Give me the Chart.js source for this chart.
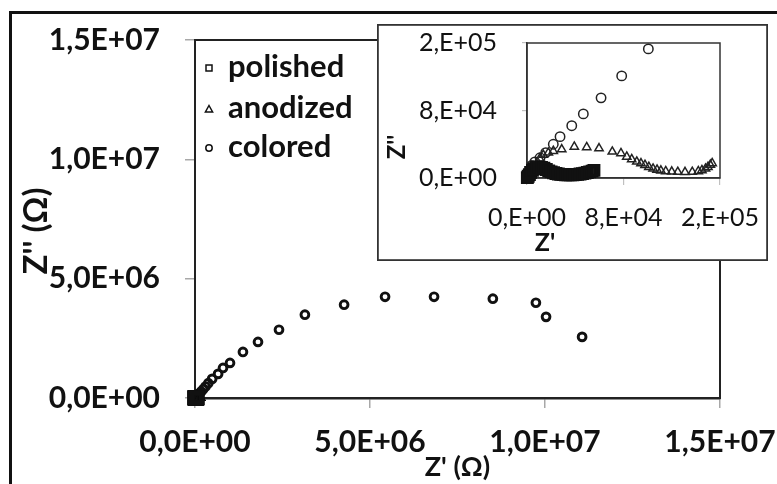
<!DOCTYPE html>
<html><head><meta charset="utf-8">
<script src="https://cdn.jsdelivr.net/npm/chart.js@4.4.1/dist/chart.umd.min.js"></script>
<style>
html,body{margin:0;padding:0;background:#fff;overflow:hidden}
#wrap{position:relative;width:777px;height:484px;overflow:hidden}
#frame{position:absolute;left:9px;top:11px;width:820px;height:520px;border-left:3px solid #111;border-top:3px solid #111}
#main{position:absolute;left:0;top:-30px}
#insetBox{position:absolute;left:377px;top:24px;width:391px;height:237px;background:#fff;overflow:hidden}
#inset{position:absolute;left:0;top:-40px}
</style></head>
<body><div id="wrap"><div id="frame"></div><canvas id="main" width="830" height="514"></canvas><div id="insetBox"><canvas id="inset" width="450" height="277"></canvas></div></div>
<script>
// ---- data (Ω) ----
const seriesNames = ['polished', 'anodized', 'colored'];

const polishedZre = [300, 1000, 2000, 3000, 4500, 6000, 8000, 10000, 12000, 14000, 16000, 18000, 20000, 22000, 24000, 26000, 28000, 30000, 32000, 34000, 36000, 38000, 40000, 42000, 44000, 46000, 48000, 50000, 52000, 54000, 55500];
const polishedZim = [500, 2000, 4000, 6500, 9000, 11000, 12500, 13000, 12500, 11500, 10000, 8500, 7200, 6200, 5400, 4800, 4300, 4000, 3800, 3700, 3700, 3800, 4000, 4300, 4700, 5200, 5800, 6500, 7300, 8200, 9000];

const anodizedZre = [1000, 3000, 5000, 8000, 10500, 13500, 17700, 21800, 28800, 39200, 49500, 59700, 70700, 77900, 82700, 86800, 91000, 94500, 97800, 101000, 104500, 107800, 111000, 115000, 120000, 125000, 131000, 137000, 142000, 145000, 148000, 150000, 152000, 153500];
const anodizedZim = [2000, 6000, 11000, 17000, 23000, 27300, 30000, 32000, 34000, 37000, 36400, 35200, 31200, 29300, 25200, 22200, 19300, 17400, 15400, 13000, 11000, 9800, 8800, 8000, 7500, 7200, 7000, 7200, 8000, 9200, 11000, 13000, 15500, 17500];

const coloredZre = [500, 1500, 2500, 3900, 6500, 10800, 15500, 21800, 27400, 37100, 46700, 61400, 78500, 100600, 130000, 175000, 235000, 300000, 380000, 490000, 660000, 800000, 1000000, 1370000, 1800000, 2400000, 3140000, 4260000, 5430000, 6830000, 8510000, 9740000, 10030000, 11060000];
const coloredZim = [1000, 4000, 8000, 15000, 19000, 24000, 30000, 40000, 49000, 62000, 76000, 95000, 121000, 153000, 200000, 270000, 365000, 480000, 620000, 800000, 1010000, 1260000, 1470000, 1930000, 2350000, 2860000, 3490000, 3910000, 4240000, 4240000, 4160000, 3990000, 3400000, 2560000];

const mainTickValues = [0, 5e6, 1e7, 1.5e7];
const mainTickLabels = ['0,0E+00', '5,0E+06', '1,0E+07', '1,5E+07'];
const insetTickValues = [0, 8e4, 1.6e5];
const insetTickLabels = ['0,E+00', '8,E+04', '2,E+05'];

const mainXTitle = "Z' (Ω)";
const mainYTitle = "Z'' (Ω)";
const insetXTitle = "Z'";
const insetYTitle = "Z''";

// ---- helpers ----
const pts = (xs, ys) => xs.map((x, i) => ({x: x, y: ys[i]}));
Chart.defaults.font.family = 'Lato';
Chart.defaults.color = '#111';

const fixTicks = (vals) => (scale) => { scale.ticks = vals.map(v => ({value: v})); };
const labelFor = (vals, labels) => (value) => { const i = vals.indexOf(value); return i >= 0 ? labels[i] : ''; };

const frameRect = {
  id: 'frameRect',
  beforeDatasetsDraw(chart, args, opts) {
    const a = chart.chartArea, ctx = chart.ctx;
    ctx.save();
    ctx.strokeStyle = opts.color; ctx.lineWidth = opts.width;
    ctx.strokeRect(a.left, a.top, a.right - a.left, a.bottom - a.top);
    if (opts.outer) {
      const o = opts.outer;
      ctx.lineWidth = o.lw;
      ctx.strokeRect(o.x + o.lw / 2, o.y + o.lw / 2, o.w - o.lw, o.h - o.lw);
    }
    ctx.restore();
  }
};

const freeTitles = {
  id: 'freeTitles',
  afterDraw(chart, args, opts) {
    const ctx = chart.ctx;
    (opts.items || []).forEach(it => {
      ctx.save();
      ctx.font = it.font; ctx.fillStyle = '#111';
      ctx.textAlign = 'center'; ctx.textBaseline = 'middle';
      ctx.translate(it.x, it.y);
      if (it.rotate) ctx.rotate(it.rotate);
      ctx.fillText(it.text, 0, 0);
      ctx.restore();
    });
  }
};

const sideLegend = {
  id: 'sideLegend',
  afterDraw(chart, args, opts) {
    const ctx = chart.ctx;
    ctx.save();
    chart.data.datasets.forEach((ds, i) => {
      const y = opts.rows[i], x = opts.x;
      ctx.lineWidth = 1.5; ctx.strokeStyle = '#111'; ctx.fillStyle = '#fff';
      ctx.beginPath();
      if (ds.pointStyle === 'rect') { ctx.rect(x - 3, y - 3, 6, 6); }
      else if (ds.pointStyle === 'triangle') { ctx.moveTo(x, y - 3.5); ctx.lineTo(x + 3.6, y + 3); ctx.lineTo(x - 3.6, y + 3); ctx.closePath(); }
      else { ctx.arc(x, y, 3.2, 0, Math.PI * 2); }
      ctx.fill(); ctx.stroke();
      ctx.fillStyle = '#111'; ctx.font = opts.font;
      ctx.textAlign = 'left'; ctx.textBaseline = 'alphabetic';
      ctx.fillText(ds.label, opts.textX, y + opts.baseShift);
    });
    ctx.restore();
  }
};

// ---- main chart (canvas shifted up 30px; page y = canvas y - 30) ----
const mainTickFont = {family: 'Lato', weight: 'bold', size: 30};
new Chart(document.getElementById('main'), {
  type: 'scatter',
  data: {datasets: [
    {label: seriesNames[0], data: pts(polishedZre, polishedZim), pointStyle: 'rect', pointRadius: 7, pointBorderWidth: 5, pointBorderColor: '#111', pointBackgroundColor: 'rgba(0,0,0,0)', clip: false},
    {label: seriesNames[1], data: pts(anodizedZre, anodizedZim), pointStyle: 'triangle', pointRadius: 4.5, pointBorderWidth: 2, pointBorderColor: '#111', pointBackgroundColor: 'rgba(0,0,0,0)', clip: false},
    {label: seriesNames[2], data: pts(coloredZre, coloredZim), pointStyle: 'circle', pointRadius: 3.9, pointBorderWidth: 2.9, pointBorderColor: '#111', pointBackgroundColor: 'rgba(0,0,0,0)', clip: false}
  ]},
  options: {
    responsive: false, animation: false, events: [],
    layout: {padding: {left: 0, top: 70, right: 110, bottom: 0}},
    plugins: {
      legend: {display: false}, tooltip: {enabled: false},
      frameRect: {color: '#222', width: 2},
      sideLegend: {x: 209, rows: [98, 139, 178], textX: 228, baseShift: 9, font: 'bold 31px Lato'},
      freeTitles: {items: [{text: mainYTitle, x: 36, y: 261, rotate: -Math.PI / 2, font: 'bold 33px Lato'}]}
    },
    scales: {
      x: {
        type: 'linear', min: 0, max: 1.5e7,
        afterBuildTicks: fixTicks(mainTickValues),
        afterFit: s => { s.height = 86; },
        grid: {drawOnChartArea: false, drawTicks: true, tickLength: 10, color: '#a8a8a8', lineWidth: 1.5},
        border: {display: true, color: '#222', width: 2.5},
        ticks: {font: mainTickFont, color: '#111', padding: 16, maxRotation: 0, autoSkip: false, callback: labelFor(mainTickValues, mainTickLabels)},
        title: {display: true, text: mainXTitle, font: {family: 'Lato', weight: 'bold', size: 27}, color: '#111', padding: {top: 0, bottom: 1}}
      },
      y: {
        type: 'linear', min: 0, max: 1.5e7,
        afterBuildTicks: fixTicks(mainTickValues),
        afterFit: s => { s.width = 195; },
        grid: {drawOnChartArea: false, drawTicks: true, tickLength: 10, color: '#a8a8a8', lineWidth: 1.5},
        border: {display: true, color: '#222', width: 2},
        ticks: {font: mainTickFont, color: '#111', padding: 25, autoSkip: false, callback: labelFor(mainTickValues, mainTickLabels)}
      }
    }
  },
  plugins: [frameRect, sideLegend, freeTitles]
});

// ---- inset chart (canvas shifted up 40px inside its box) ----
const insetTickFont = {family: 'Lato', weight: 'normal', size: 25};
const insetClip = {left: 10, bottom: 10, top: 6, right: 6};
new Chart(document.getElementById('inset'), {
  type: 'scatter',
  data: {datasets: [
    {label: seriesNames[0], data: pts(polishedZre, polishedZim), pointStyle: 'rect', pointRadius: 7, pointBorderWidth: 3, pointBorderColor: '#111', pointBackgroundColor: 'rgba(0,0,0,0)', clip: insetClip},
    {label: seriesNames[1], data: pts(anodizedZre, anodizedZim), pointStyle: 'triangle', pointRadius: 4.8, pointBorderWidth: 1.5, pointBorderColor: '#222', pointBackgroundColor: 'rgba(0,0,0,0)', clip: insetClip},
    {label: seriesNames[2], data: pts(coloredZre, coloredZim), pointStyle: 'circle', pointRadius: 4.7, pointBorderWidth: 1.5, pointBorderColor: '#222', pointBackgroundColor: 'rgba(0,0,0,0)', clip: insetClip}
  ]},
  options: {
    responsive: false, animation: false, events: [],
    layout: {padding: {left: 0, top: 59, right: 107, bottom: 0}},
    plugins: {
      legend: {display: false}, tooltip: {enabled: false},
      frameRect: {color: '#333', width: 1.5, outer: {x: 0, y: 40, w: 391, h: 237, lw: 1.8}},
      freeTitles: {items: [
        {text: insetXTitle, x: 168, y: 259, font: 'bold 25px Lato'},
        {text: insetYTitle, x: 20, y: 163, rotate: -Math.PI / 2, font: 'bold 24px Lato'}
      ]}
    },
    scales: {
      x: {
        type: 'linear', min: 0, max: 1.6e5,
        afterBuildTicks: fixTicks(insetTickValues),
        afterFit: s => { s.height = 83; },
        grid: {drawOnChartArea: false, drawTicks: true, tickLength: 7, color: '#c0c0c0', lineWidth: 1.2},
        border: {display: true, color: '#333', width: 1.5},
        ticks: {font: insetTickFont, color: '#111', padding: 18, maxRotation: 0, autoSkip: false, callback: labelFor(insetTickValues, insetTickLabels)}
      },
      y: {
        type: 'linear', min: 0, max: 1.6e5,
        afterBuildTicks: fixTicks(insetTickValues),
        afterFit: s => { s.width = 150; },
        grid: {drawOnChartArea: false, drawTicks: true, tickLength: 5, color: '#c0c0c0', lineWidth: 1.2},
        border: {display: true, color: '#333', width: 1.5},
        ticks: {font: insetTickFont, color: '#111', padding: 25, autoSkip: false, callback: labelFor(insetTickValues, insetTickLabels)}
      }
    }
  },
  plugins: [frameRect, freeTitles]
});
</script>
</body></html>
